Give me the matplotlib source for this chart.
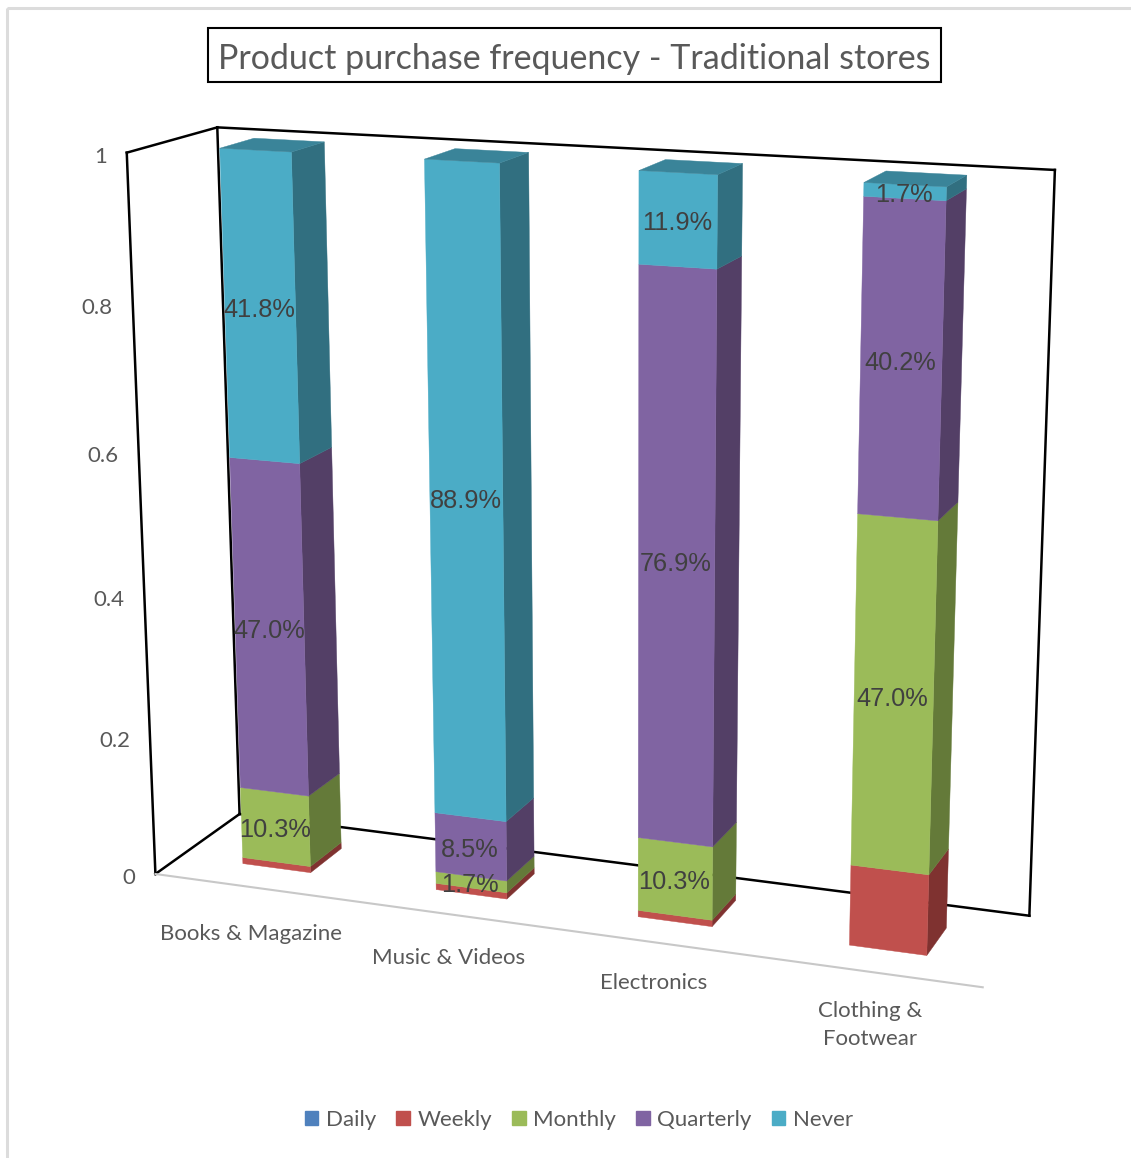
import numpy as np
import matplotlib
matplotlib.use('Agg')
import matplotlib.pyplot as plt
from matplotlib.patches import Patch, Polygon, Rectangle

# Chart values
categories = ['Books & Magazine', 'Music & Videos', 'Electronics', 'Clothing &\nFootwear']
series_names = ['Daily', 'Weekly', 'Monthly', 'Quarterly', 'Never']
daily = [0.0, 0.0, 0.0, 0.0]
weekly = [0.009, 0.009, 0.009, 0.111]
monthly = [0.103, 0.017, 0.103, 0.470]
quarterly = [0.470, 0.085, 0.769, 0.402]
never = [0.418, 0.889, 0.119, 0.017]
y_ticks = [0, 0.2, 0.4, 0.6, 0.8, 1]

series_values = [daily, weekly, monthly, quarterly, never]
show_labels = [False, False, True, True, True]

# Colours: front, side, top
front_colors = ['#4F81BD', '#C0504D', '#9BBB59', '#8064A2', '#4BACC6']
side_colors = ['#345680', '#7F3230', '#647A39', '#533F66', '#316F80']
top_colors = ['#3D6591', '#953E3B', '#78904A', '#634D7E', '#3A8499']
text_gray = '#595959'

# Where the corners of the chart box landed in the picture (x, value, depth)
box_world = [(0, 0, 0), (0, 1, 0), (0, 1, 1), (0, 0, 1), (4, 1, 1), (4, 0, 1), (4, 0, 0)]
box_pixels = [(154, 873), (128, 153), (216, 127), (241, 815), (1055, 170), (1029, 915), (983, 988)]

# Bar footprint inside each category slot
bar_center = 0.504
bar_width = 0.355
depth_front = 0.30
depth_back = 0.69

# Solve the camera matrix from the corners above
rows = []
for (wx, wy, wz), (px, py) in zip(box_world, box_pixels):
    rows.append([wx, wy, wz, 1, 0, 0, 0, 0, -px * wx, -px * wy, -px * wz, -px])
    rows.append([0, 0, 0, 0, wx, wy, wz, 1, -py * wx, -py * wy, -py * wz, -py])
camera = np.linalg.svd(np.array(rows, dtype=float))[2][-1].reshape(3, 4)


def project(x, y, z):
    u, v, w = camera @ np.array([x, y, z, 1.0])
    return u / w, v / w


fig = plt.figure(figsize=(11.31, 11.58), dpi=100)
ax = fig.add_axes([0, 0, 1, 1])
ax.set_xlim(0, 1131)
ax.set_ylim(1158, 0)
ax.axis('off')

# Outer chart border
ax.add_patch(Rectangle((6.5, 8), 1140, 1170, fill=False, ec='#DCDCDC', lw=2.2))

# Title
ax.add_patch(Rectangle((208, 28), 733, 54, fill=False, ec='black', lw=1.5))
ax.text(574, 59, 'Product purchase frequency - Traditional stores', ha='center', va='center',
        fontsize=24.5, family='Lato', color=text_gray)

# Walls and floor
wall_lines = [((0, 0, 0), (0, 1, 0)), ((0, 1, 0), (0, 1, 1)), ((0, 1, 1), (4, 1, 1)),
              ((4, 1, 1), (4, 0, 1)), ((4, 0, 1), (0, 0, 1)), ((0, 0, 1), (0, 0, 0)),
              ((0, 1, 1), (0, 0, 1))]
for a, b in wall_lines:
    pa, pb = project(*a), project(*b)
    ax.plot([pa[0], pb[0]], [pa[1], pb[1]], color='black', lw=1.8, solid_capstyle='projecting', zorder=2)
pa, pb = project(0, 0, 0), project(4, 0, 0)
ax.plot([pa[0], pb[0]], [pa[1], pb[1]], color='#C8C8C8', lw=1.5, zorder=2)

for tick in y_ticks:
    px, py = project(0, tick, 0)
    ax.text(px - 20, py + 4.5, str(tick), ha='right', va='center', fontsize=16,
            family='Lato', color=text_gray)


def face(corners, color):
    ax.add_patch(Polygon([project(*c) for c in corners], closed=True, fc=color, ec=color, lw=0.3, zorder=3))


# Bars, bottom segment first
labels = []
for i in range(len(categories)):
    x0 = i + bar_center - bar_width / 2
    x1 = i + bar_center + bar_width / 2
    base = 0.0
    n = len(series_values)
    for s in range(n):
        val = series_values[s][i]
        if val == 0:
            continue
        top = base + val
        face([(x1, base, depth_front), (x1, base, depth_back), (x1, top, depth_back), (x1, top, depth_front)], side_colors[s])
        face([(x0, base, depth_front), (x1, base, depth_front), (x1, top, depth_front), (x0, top, depth_front)], front_colors[s])
        if s == n - 1:
            face([(x0, top, depth_front), (x1, top, depth_front), (x1, top, depth_back), (x0, top, depth_back)], top_colors[s])
        if show_labels[s]:
            labels.append((project(i + 0.5, base + val / 2, depth_front), f'{val * 100:.1f}%'))
        base = top

for (px, py), txt in labels:
    ax.text(px, py + 3, txt, ha='center', va='center', fontsize=18.3,
            family='Liberation Sans', color='#404040', zorder=4)

# Category labels
label_xy = [(251, 934), (449, 958), (654, 983), (870, 1025)]
for name, (px, py) in zip(categories, label_xy):
    ax.text(px, py, name, ha='center', va='center', fontsize=16, family='Lato',
            color=text_gray, linespacing=1.45)

# Legend
handles = [Patch(color=c, label=name) for c, name in zip(front_colors, series_names)]
ax.legend(handles=handles, loc='center', bbox_to_anchor=(579, 1120), bbox_transform=ax.transData,
          ncols=5, frameon=False, handlelength=0.6, handleheight=0.6, handletextpad=0.35,
          columnspacing=0.9, prop={'family': 'Lato', 'size': 16}, labelcolor=text_gray)

fig.savefig('out.png', dpi=100)
